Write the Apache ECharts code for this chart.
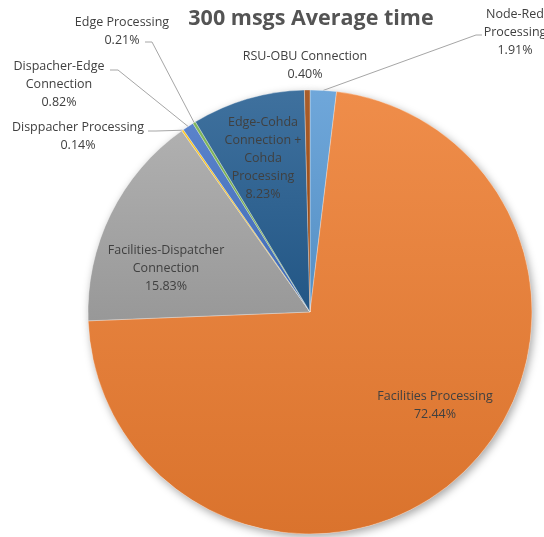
<!DOCTYPE html>
<html><head><meta charset="utf-8">
<script src="https://cdn.jsdelivr.net/npm/echarts@6/dist/echarts.min.js"></script>
<style>html,body{margin:0;padding:0;background:#fff}#c{width:544px;height:537px}</style>
</head><body><div id="c"></div>
<script>
var titleText = '300 msgs Average time';
var categories = ['Node-Red Processing', 'Facilities Processing', 'Facilities-Dispatcher Connection',
  'Disppacher Processing', 'Dispacher-Edge Connection', 'Edge Processing',
  'Edge-Cohda Connection + Cohda Processing', 'RSU-OBU Connection'];
var labelNames = ['Node-Red\nProcessing', 'Facilities Processing', 'Facilities-Dispatcher\nConnection',
  'Disppacher Processing', 'Dispacher-Edge\nConnection', 'Edge Processing',
  'Edge-Cohda\nConnection +\nCohda\nProcessing', 'RSU-OBU Connection'];
var values = [1.91, 72.44, 15.83, 0.14, 0.82, 0.21, 8.23, 0.40];
var colors = ['#5B9BD5', '#ED7D31', '#A5A5A5', '#FFC000', '#4472C4', '#70AD47', '#255E91', '#9E480E'];

// label layout (center x, center y) and leader line (bend x, bend y, end x, end y)
var labelPos = [
  [515, 32, 476, 35, 482, 35],
  [435, 405],
  [166, 268],
  [78, 136, 156, 131, 148, 131],
  [59, 84, 118, 70, 110, 70],
  [122, 31, 152, 42, 145, 42],
  [263, 158],
  [305, 65]
];
var withLine = [true, false, false, true, true, true, false, false];

function mix(hex, target, t) {
  var r = parseInt(hex.substr(1, 2), 16), g = parseInt(hex.substr(3, 2), 16), b = parseInt(hex.substr(5, 2), 16);
  r = Math.round(r + (target - r) * t); g = Math.round(g + (target - g) * t); b = Math.round(b + (target - b) * t);
  return 'rgb(' + r + ',' + g + ',' + b + ')';
}

var chart = echarts.init(document.getElementById('c'), null, {renderer: 'canvas'});
var data = categories.map(function (n, i) {
  return {
    name: n,
    value: values[i],
    itemStyle: {
      color: new echarts.graphic.LinearGradient(0, 0, 0, 1, [
        {offset: 0, color: mix(colors[i], 255, 0.12)},
        {offset: 1, color: mix(colors[i], 0, 0.08)}
      ])
    },
    labelLine: {show: withLine[i]}
  };
});
var shadowData = categories.map(function (n, i) { return {name: n, value: values[i]}; });

var FONT = '"Open Sans", sans-serif';
chart.setOption({
  animation: false,
  backgroundColor: '#fff',
  title: {
    text: titleText,
    left: 306,
    textAlign: 'center',
    top: 3,
    textStyle: {fontFamily: FONT, fontSize: 21.5, fontWeight: 'bold', color: '#545454'}
  },
  series: [{
    type: 'pie',
    silent: true,
    z: 1,
    center: [310, 312],
    radius: 222,
    startAngle: 90,
    data: shadowData,
    itemStyle: {color: '#fff', shadowBlur: 8, shadowColor: 'rgba(0,0,0,0.35)', shadowOffsetX: 2, shadowOffsetY: 3},
    label: {show: false},
    labelLine: {show: false}
  }, {
    type: 'pie',
    z: 2,
    center: [310, 312],
    radius: 222,
    startAngle: 90,
    clockwise: true,
    avoidLabelOverlap: false,
    data: data,
    itemStyle: {borderColor: 'rgba(255,255,255,0.6)', borderWidth: 0.5},
    label: {
      show: true,
      position: 'outside',
      formatter: function (p) { return labelNames[p.dataIndex] + '\n' + values[p.dataIndex].toFixed(2) + '%'; },
      fontFamily: FONT,
      fontSize: 12.5,
      lineHeight: 18,
      color: '#404040',
      align: 'center'
    },
    labelLine: {show: true, lineStyle: {color: '#a6a6a6', width: 1}, length: 10, length2: 10},
    labelLayout: function (p) {
      var pos = labelPos[p.dataIndex];
      var res = {x: pos[0], y: pos[1], align: 'center', verticalAlign: 'middle'};
      if (pos.length > 2 && p.labelLinePoints) {
        var s = p.labelLinePoints[0];
        res.labelLinePoints = [[s[0], s[1]], [pos[2], pos[3]], [pos[4], pos[5]]];
      }
      return res;
    }
  }]
});
</script></body></html>
